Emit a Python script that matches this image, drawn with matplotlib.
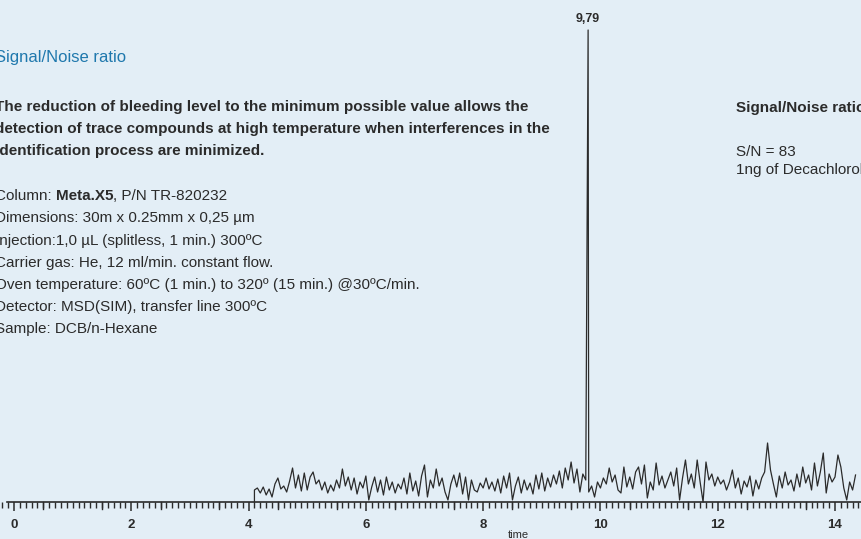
import numpy as np
import matplotlib
matplotlib.use('Agg')
import matplotlib.pyplot as plt
from matplotlib.ticker import MultipleLocator

# chromatogram data (signal height in arbitrary units, baseline = 0)
noise_start = 4.10
noise_step = 0.05
noise_values = [
    12, 14, 9, 15, 7, 13, 5, 18, 24, 13, 16, 10, 21, 34, 14, 27, 11, 29, 12, 25,
    30, 18, 22, 12, 20, 9, 17, 11, 22, 14, 33, 16, 25, 12, 24, 8, 20, 14, 26, 2,
    15, 25, 10, 22, 7, 25, 12, 20, 9, 18, 13, 24, 8, 29, 11, 21, 6, 26, 37, 5,
    22, 14, 33, 16, 24, 10, 2, 18, 27, 15, 29, 8, 25, 2, 22, 12, 10, 19, 14, 24,
    13, 20, 11, 23, 9, 26, 14, 29, 2, 16, 25, 9, 22, 12, 19, 8, 27, 13, 29, 11,
    24, 15, 27, 18, 31, 14, 34, 22, 40, 19, 33, 10, 28, 22,
    10, 16, 5, 20, 14, 24, 18, 34, 20, 27, 12, 9, 35, 15, 25, 13, 30, 35, 18, 37,
    4, 20, 12, 39, 17, 26, 14, 22, 30, 16, 34, 2, 24, 42, 18, 28, 14, 42, 20, 0,
    40, 22, 28, 16, 25, 18, 22, 12, 20, 32, 14, 24, 8, 21, 15, 26, 6, 22, 13, 24,
    30, 59, 32, 18, 5, 26, 14, 30, 17, 22, 11, 28, 15, 35, 19, 27, 12, 39, 16, 30,
    49, 9, 28, 20, 25, 47, 35, 14, 2, 20, 12, 27,
]
peak_time = 9.79
peak_height = 472
peak_label = '9,79'

tick_values = [0, 2, 4, 6, 8, 10, 12, 14]

title_left = 'Signal/Noise ratio'
bold_lines = [
    'The reduction of bleeding level to the minimum possible value allows the',
    'detection of trace compounds at high temperature when interferences in the',
    'identification process are minimized.',
]
info_lines = [
    ('Column: ', 'Meta.X5', ', P/N TR-820232'),
    ('Dimensions: 30m x 0.25mm x 0,25 µm', '', ''),
    ('Injection:1,0 µL (splitless, 1 min.) 300ºC', '', ''),
    ('Carrier gas: He, 12 ml/min. constant flow.', '', ''),
    ('Oven temperature: 60ºC (1 min.) to 320º (15 min.) @30ºC/min.', '', ''),
    ('Detector: MSD(SIM), transfer line 300ºC', '', ''),
    ('Sample: DCB/n-Hexane', '', ''),
]
right_title = 'Signal/Noise ratio'
right_lines = ['S/N = 83', '1ng of Decachlorobiphenyl']

W, H = 861, 539
BG = '#e3eef6'
INK = '#2b2b2b'
BLUE = '#1f78ad'
plt.rcParams['font.family'] = ['Liberation Sans', 'DejaVu Sans']

fig = plt.figure(figsize=(W / 100, H / 100), dpi=100, facecolor=BG)
ax = fig.add_axes([0, 0, 1, 1], facecolor=BG)

# pixel mapping: x=0 at px 14, x=14 at px 835 ; baseline at px 502 from top
px_per_min = (835 - 14) / 14
ax.set_xlim(-14 / px_per_min, (W - 14) / px_per_min)
ax.set_ylim(-(H - 502), 502)

t = noise_start + noise_step * np.arange(len(noise_values))
t = np.round(t, 2)
y = np.array(noise_values, dtype=float)
# add the peak and the step where the signal starts
t = np.concatenate([[noise_start], t, [peak_time]])
y = np.concatenate([[0], y, [peak_height]])
order = np.argsort(t, kind='stable')
ax.plot(t[order], y[order], color=INK, lw=0.9)

ax.text(peak_time, 480, peak_label, ha='center', va='baseline',
        fontsize=9, fontweight='bold', color=INK)

# axis
for s in ['top', 'right', 'left']:
    ax.spines[s].set_visible(False)
ax.spines['bottom'].set_position(('data', 0))
ax.spines['bottom'].set_bounds(-7 / px_per_min, (W - 14) / px_per_min)
ax.spines['bottom'].set_color(INK)
ax.spines['bottom'].set_linewidth(1.2)
ax.set_yticks([])
ax.set_xticks(tick_values)
ax.xaxis.set_minor_locator(MultipleLocator(0.1))
ax.set_xticklabels([str(v) for v in tick_values], fontweight='bold', fontsize=9.5, color=INK)
ax.tick_params(axis='x', which='major', direction='out', length=6.5, width=1.1, color=INK, pad=5.5)
ax.tick_params(axis='x', which='minor', direction='out', length=4, width=1.0, color=INK)
# half-minute ticks a bit longer
for v in np.arange(0.5, 14.5, 1.0):
    ax.plot([v, v], [0, -6.5], color=INK, lw=1.0, clip_on=False)

ax.text(8.6, -36, 'time', ha='center', va='baseline', fontsize=8, color=INK)


def ftext(x, y, s, **kw):
    return fig.text(x / W, 1 - y / H, s, va='baseline', **kw)


ftext(-5, 62, title_left, fontsize=12, color=BLUE)
for i, line in enumerate(bold_lines):
    ftext(-5, 111 + 22 * i, line, fontsize=10.95, fontweight='bold', color=INK)

fig.canvas.draw()
renderer = fig.canvas.get_renderer()
for i, (a, b, c) in enumerate(info_lines):
    yy = 200.5 + 22 * i
    x0 = -5
    for part, wt in ((a, 'normal'), (b, 'bold'), (c, 'normal')):
        if not part:
            continue
        tx = ftext(x0, yy, part, fontsize=11, fontweight=wt, color=INK)
        x0 += tx.get_window_extent(renderer).width

ftext(736, 112, right_title, fontsize=11, fontweight='bold', color=INK)
ftext(736, 156, right_lines[0], fontsize=11, color=INK)
ftext(736, 174, right_lines[1], fontsize=11, color=INK)

fig.savefig('out.png', dpi=100, facecolor=BG)
